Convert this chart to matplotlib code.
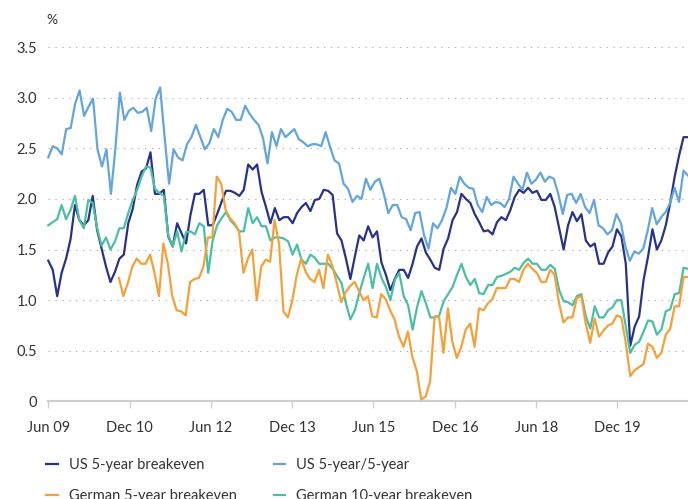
import matplotlib
matplotlib.use("Agg")
import matplotlib.pyplot as plt
import pandas as pd

plt.rcParams["font.family"] = ["Lato", "DejaVu Sans"]

# values, in %
us_5y = [1.39, 1.30, 1.04, 1.27, 1.41, 1.60, 1.94, 1.79, 1.74, 1.79, 2.03, 1.69, 1.51, 1.33, 1.18, 1.28,
         1.41, 1.45, 1.76, 1.90, 2.14, 2.27,
         2.30, 2.46, 2.05, 2.05, 2.09, 1.63, 1.53, 1.76, 1.66, 1.56, 1.84, 2.05, 2.05, 2.09, 1.74, 1.74,
         1.85, 1.97, 2.08, 2.08, 2.06,
         2.03, 2.09, 2.34, 2.29, 2.34, 2.07, 1.92, 1.76, 1.91, 1.79, 1.82, 1.82, 1.76, 1.86, 1.92, 1.96,
         1.88, 1.99, 2.00, 2.09,
         2.08, 2.04, 1.66, 1.59, 1.41, 1.21, 1.43, 1.64, 1.59, 1.73, 1.62, 1.68, 1.37, 1.25, 1.10, 1.21,
         1.30, 1.30, 1.22, 1.36,
         1.53, 1.61, 1.47, 1.40, 1.32, 1.30, 1.51, 1.61, 1.79, 1.87, 2.05, 2.00, 1.96, 1.85, 1.77, 1.68,
         1.69, 1.65, 1.77, 1.82,
         1.79, 1.89, 2.02, 2.09, 2.06, 2.11, 2.06, 2.08, 1.99, 1.99, 2.05, 1.92, 1.71, 1.50, 1.74, 1.87,
         1.78, 1.85, 1.59, 1.53,
         1.56, 1.36, 1.36, 1.47, 1.53, 1.70, 1.63, 1.36, 0.55, 0.74, 0.84, 1.20, 1.43, 1.70, 1.50, 1.59,
         1.74, 1.96, 2.22, 2.43, 2.61, 2.61]

us_5y5y = [2.41, 2.52, 2.50, 2.44, 2.69, 2.70, 2.94, 3.07, 2.82, 2.91, 2.99, 2.49, 2.32, 2.49, 2.05, 2.50,
           3.05, 2.78, 2.87, 2.90, 2.85, 2.86,
           2.90, 2.67, 2.99, 3.10, 2.61, 2.15, 2.49, 2.41, 2.38, 2.54, 2.61, 2.73, 2.61, 2.49, 2.55, 2.69,
           2.61, 2.78, 2.89, 2.86,
           2.78, 2.78, 2.92, 2.84, 2.78, 2.73, 2.60, 2.35, 2.66, 2.52, 2.69, 2.61, 2.65, 2.69, 2.59, 2.56,
           2.52, 2.54, 2.54, 2.52,
           2.66, 2.51, 2.38, 2.35, 2.15, 2.10, 1.97, 2.03, 2.00, 2.20, 2.09, 2.17, 2.20, 2.05, 1.86, 1.94,
           1.94, 1.82, 1.80, 1.69,
           1.86, 1.87, 1.64, 1.51, 1.76, 1.71, 1.79, 1.91, 2.11, 2.05, 2.22, 2.15, 2.11, 2.10, 1.94, 1.87,
           2.02, 1.94, 1.97, 1.96,
           1.92, 2.00, 2.22, 2.15, 2.09, 2.26, 2.15, 2.19, 2.26, 2.17, 2.22, 2.20, 2.05, 1.85, 2.04, 2.05,
           1.96, 2.05, 1.92, 1.86,
           1.99, 1.74, 1.71, 1.65, 1.69, 1.85, 1.76, 1.53, 1.39, 1.48, 1.46, 1.51, 1.69, 1.91, 1.75, 1.82,
           1.87, 1.96, 2.11, 1.97, 2.28, 2.23]

de_5y = [1.22, 1.04, 1.17, 1.33, 1.41, 1.36,
         1.36, 1.45, 1.27, 1.04, 1.56, 1.36, 1.04, 0.90, 0.89, 0.85, 1.18, 1.21, 1.22, 1.33, 1.62, 1.62,
         2.22, 2.15, 1.89, 1.81, 1.76,
         1.68, 1.27, 1.41, 1.50, 1.00, 1.33, 1.40, 1.38, 1.79, 1.56, 0.89, 0.83, 1.00, 1.25, 1.41, 1.28,
         1.21, 1.18, 1.30, 1.12,
         1.45, 1.34, 1.17, 0.98, 1.08, 1.14, 1.18, 1.09, 1.00, 1.04, 0.84, 0.83, 1.06, 1.01, 0.90, 0.81,
         0.64, 0.54, 0.69, 0.44,
         0.30, 0.02, 0.05, 0.20, 0.84, 0.84, 0.48, 0.92, 0.59, 0.43, 0.54, 0.71, 0.77, 0.54, 0.92, 0.90,
         0.97, 1.01, 1.12, 1.12,
         1.12, 1.21, 1.21, 1.18, 1.30, 1.36, 1.31, 1.27, 1.18, 1.18, 1.30, 1.25, 0.97, 0.78, 0.83, 0.83,
         1.02, 1.04, 0.77, 0.58,
         0.82, 0.64, 0.70, 0.75, 0.77, 0.85, 0.83, 0.58, 0.25, 0.31, 0.34, 0.37, 0.57, 0.54, 0.43, 0.48,
         0.66, 0.72, 0.94, 0.94, 1.23, 1.23]

de_10y = [1.74, 1.77, 1.80, 1.94, 1.80, 1.89, 2.03, 1.79, 1.71, 1.99, 1.96, 1.71, 1.54, 1.62, 1.50, 1.58,
          1.71, 1.71, 1.86, 1.99, 2.09, 2.22,
          2.32, 2.31, 2.10, 2.06, 2.03, 1.64, 1.53, 1.68, 1.48, 1.67, 1.68, 1.65, 1.76, 1.73, 1.27, 1.59,
          1.74, 1.81, 1.87, 1.79, 1.74,
          1.68, 1.68, 1.91, 1.76, 1.82, 1.73, 1.73, 1.59, 1.62, 1.62, 1.61, 1.58, 1.45, 1.55, 1.40, 1.36,
          1.45, 1.42, 1.36, 1.36,
          1.36, 1.31, 1.24, 1.17, 0.97, 0.81, 0.90, 1.07, 1.22, 1.36, 1.12, 1.36, 1.22, 1.13, 1.00, 1.20,
          1.27, 1.04, 0.95, 0.71,
          0.93, 1.09, 0.97, 0.83, 0.83, 0.85, 0.99, 1.06, 1.13, 1.25, 1.36, 1.23, 1.15, 1.21, 1.07, 1.06,
          1.15, 1.15, 1.23, 1.24,
          1.26, 1.28, 1.32, 1.30, 1.37, 1.41, 1.36, 1.36, 1.30, 1.30, 1.35, 1.31, 1.10, 0.99, 0.98, 0.95,
          1.04, 1.06, 0.84, 0.72,
          0.94, 0.83, 0.83, 0.90, 0.93, 1.00, 1.00, 0.74, 0.48, 0.56, 0.59, 0.69, 0.80, 0.79, 0.66, 0.71,
          0.89, 0.91, 1.06, 1.07, 1.32, 1.31]

start = "2009-06-01"
de_5y_start = "2010-09-20"
end = "2021-03-20"

tick_dates = ["2009-06-01", "2010-12-01", "2012-06-01", "2013-12-01",
              "2015-06-01", "2016-12-01", "2018-06-01", "2019-12-01"]
tick_labels = ["Jun 09", "Dec 10", "Jun 12", "Dec 13", "Jun 15", "Dec 16", "Jun 18", "Dec 19"]
y_ticks = [0, 0.5, 1.0, 1.5, 2.0, 2.5, 3.0, 3.5]
y_labels = ["0", "0.5", "1.0", "1.5", "2.0", "2.5", "3.0", "3.5"]

navy = "#27338a"
light_blue = "#63a5dc"
orange = "#f6a03a"
teal = "#4bbfa4"
text_col = "#333333"

fig = plt.figure(figsize=(6.88, 4.99), dpi=100)
ax = fig.add_axes([0.0702, 0.1954, 0.9298, 0.7104])

def dates(s, values):
    return pd.date_range(s, end, periods=len(values))

l1, = ax.plot(dates(start, us_5y), us_5y, color=navy, lw=1.6, label="US 5-year breakeven")
l2, = ax.plot(dates(start, us_5y5y), us_5y5y, color=light_blue, lw=1.6, label="US 5-year/5-year")
l4, = ax.plot(dates(start, de_10y), de_10y, color=teal, lw=1.6, label="German 10-year breakeven")
l3, = ax.plot(dates(de_5y_start, de_5y), de_5y, color=orange, lw=1.6, label="German 5-year breakeven")
for ln in (l1, l2, l3, l4):
    ln.set_clip_on(False)

ax.set_xlim(pd.Timestamp(start), pd.Timestamp(end))
ax.set_ylim(0, 3.5)

ax.set_yticks(y_ticks)
ax.set_yticklabels(y_labels)
ax.set_xticks(pd.to_datetime(tick_dates))
ax.set_xticklabels(tick_labels)

for sp in ["top", "right", "left"]:
    ax.spines[sp].set_visible(False)
ax.spines["bottom"].set_color("#cfcfcf")
ax.spines["bottom"].set_linewidth(1.5)
ax.spines["bottom"].set_zorder(0)

ax.tick_params(axis="y", length=0, pad=8, labelsize=10.5, labelcolor=text_col)
ax.tick_params(axis="x", length=5, width=1, color="#cfcfcf", pad=9, labelsize=10.5,
               labelcolor=text_col)

for v in y_ticks[1:]:
    ax.axhline(v, color="#b0b0b0", lw=0.8, linestyle=(0, (1.2, 5)), zorder=0)

fig.text(0.067, 0.96, "%", fontsize=10, color=text_col, ha="left", va="center")

fs = 10.5
kw = dict(frameon=False, fontsize=fs, handlelength=0.8, handletextpad=0.75,
          labelspacing=1.15, borderpad=0, borderaxespad=0, labelcolor=text_col)
fig.legend(handles=[l1, l3], loc="upper left", bbox_to_anchor=(0.067, 0.082), **kw)
fig.legend(handles=[l2, l4], loc="upper left", bbox_to_anchor=(0.398, 0.082), **kw)

fig.savefig("out.png", dpi=100)
